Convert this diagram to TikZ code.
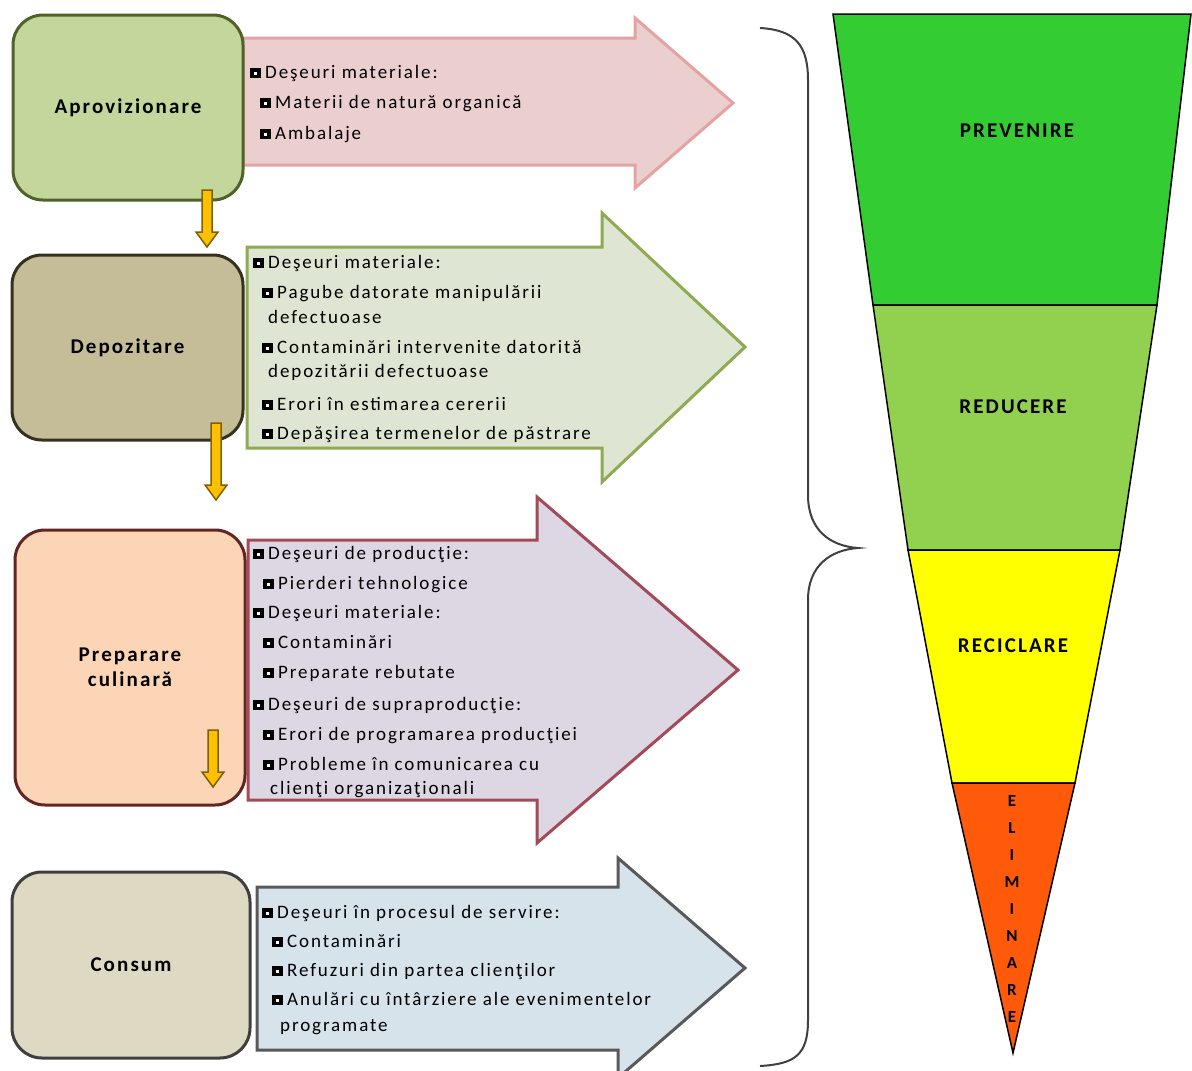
\documentclass[tikz,border=0pt]{standalone}
\usepackage{fontspec}
\setmainfont{Carlito}[LetterSpace=10]
\usetikzlibrary{calc}

\definecolor{boxAfill}{HTML}{C3D69B}\definecolor{boxAline}{HTML}{4F6228}
\definecolor{boxBfill}{HTML}{C4BD97}\definecolor{boxBline}{HTML}{36311F}
\definecolor{boxCfill}{HTML}{FBD5B5}\definecolor{boxCline}{HTML}{632523}
\definecolor{boxDfill}{HTML}{DDD9C3}\definecolor{boxDline}{HTML}{3F3F3F}
\definecolor{arrAfill}{HTML}{EBCFCF}\definecolor{arrAline}{HTML}{E3A3A3}
\definecolor{arrBfill}{HTML}{DEE5D2}\definecolor{arrBline}{HTML}{8EAA52}
\definecolor{arrCfill}{HTML}{DDD7E4}\definecolor{arrCline}{HTML}{A34A57}
\definecolor{arrDfill}{HTML}{D6E3EB}\definecolor{arrDline}{HTML}{595959}
\definecolor{goldfill}{HTML}{FFC000}\definecolor{goldline}{HTML}{7F6000}
\definecolor{lvlA}{HTML}{33CC33}\definecolor{lvlB}{HTML}{92D050}
\definecolor{lvlC}{HTML}{FFFF00}\definecolor{lvlD}{HTML}{FF5A0A}

% hollow square bullet
\newcommand{\sqb}{\makebox[15pt][l]{\rlap{\rule{11pt}{10pt}}\hspace{4pt}\raisebox{3.5pt}{\color{white}\rule{3pt}{3pt}}}}
% small vertical block arrow: x, top y, tip y
\newcommand{\downarr}[3]{\draw[goldarr] (#1-5,#2) -- (#1+5,#2) -- (#1+5,#3-15) -- (#1+11,#3-15) -- (#1,#3) -- (#1-11,#3-15) -- (#1-5,#3-15) -- cycle;}

\tikzset{
  stage/.style={draw, rounded corners=30pt, line width=3pt, align=center,
    font=\fontsize{21}{25}\selectfont\bfseries},
  ln/.style={anchor=base west, inner sep=0pt, font=\fontsize{19}{21}\selectfont},
  bigarr/.style={line width=3pt, line join=miter},
  goldarr/.style={fill=goldfill, draw=goldline, line width=1.5pt},
  tier/.style={draw=black, line width=1.5pt, line join=miter},
  tierlbl/.style={font=\fontsize{21}{25}\selectfont\bfseries},
  brace/.style={draw=black!75, line width=2pt}
}

\begin{document}
\begin{tikzpicture}[x=1pt,y=-1pt]
\useasboundingbox[fill=white] (0,0) rectangle (1192,1071);

% ---- block arrows with the waste categories
\draw[bigarr, fill=arrAfill, draw=arrAline]
  (243,38) -- (635,38) -- (635,18) -- (733,103) -- (635,188) -- (635,165) -- (243,165) -- cycle;
\draw[bigarr, fill=arrBfill, draw=arrBline]
  (247,247) -- (602,247) -- (602,213) -- (745,347) -- (602,482) -- (602,448) -- (247,448) -- cycle;
\draw[bigarr, fill=arrCfill, draw=arrCline]
  (248,540) -- (537,540) -- (537,497) -- (738,670) -- (537,843) -- (537,800) -- (248,800) -- cycle;
\draw[bigarr, fill=arrDfill, draw=arrDline]
  (257,887) -- (618,887) -- (618,858) -- (745,968) -- (618,1078) -- (618,1050) -- (257,1050) -- cycle;

% ---- process stages
\node[stage, fill=boxAfill, draw=boxAline, minimum width=230, minimum height=185] (apro) at (128,107.5) {Aprovizionare};
\node[stage, fill=boxBfill, draw=boxBline, minimum width=231, minimum height=185] (depo) at (127.5,347.5) {Depozitare};
\node[stage, fill=boxCfill, draw=boxCline, minimum width=230, minimum height=275] (prep) at (130,667.5) {Preparare\\culinară};
\node[stage, fill=boxDfill, draw=boxDline, minimum width=238, minimum height=186] (cons) at (131,965) {Consum};

% ---- flow between stages
\downarr{207}{190}{247}
\downarr{216}{423}{500}
\downarr{213}{730}{787}

% ---- texts inside the block arrows
\foreach \y/\x/\t [count=\i] in {
  78/250/{\sqb Deşeuri materiale:},
  108/260/{\sqb Materii de natură organică},
  139/260/{\sqb Ambalaje}}
  \node[ln] (ta-\i) at (\x,\y) {\t};

\foreach \y/\x/\t [count=\i] in {
  268/253/{\sqb Deşeuri materiale:},
  298/262/{\sqb Pagube datorate manipulării},
  323/268/{defectuoase},
  353/262/{\sqb Contaminări intervenite datorită},
  377/268/{depozitării defectuoase},
  410/262/{\sqb Erori în estimarea cererii},
  439/262/{\sqb Depăşirea termenelor de păstrare}}
  \node[ln] (tb-\i) at (\x,\y) {\t};

\foreach \y/\x/\t [count=\i] in {
  559/253/{\sqb Deşeuri de producţie:},
  589/263/{\sqb Pierderi tehnologice},
  618/253/{\sqb Deşeuri materiale:},
  648/263/{\sqb Contaminări},
  678/263/{\sqb Preparate rebutate},
  710/253/{\sqb Deşeuri de supraproducţie:},
  740/263/{\sqb Erori de programarea producţiei},
  770/263/{\sqb Probleme în comunicarea cu},
  794/270/{clienţi organizaţionali}}
  \node[ln] (tc-\i) at (\x,\y) {\t};

\foreach \y/\x/\t [count=\i] in {
  918/262/{\sqb Deşeuri în procesul de servire:},
  947/272/{\sqb Contaminări},
  976/272/{\sqb Refuzuri din partea clienţilor},
  1005/272/{\sqb Anulări cu întârziere ale evenimentelor},
  1031/280/{programate}}
  \node[ln] (td-\i) at (\x,\y) {\t};

% ---- curly brace
\draw[brace] (760,28) .. controls (795,30) and (808,45) .. (808,80) -- (808,495)
  .. controls (808,530) and (830,546) .. (858,548)
  .. controls (830,550) and (808,566) .. (808,600) -- (808,1020)
  .. controls (808,1055) and (795,1064) .. (760,1066);

% ---- waste hierarchy funnel
\draw[tier, fill=lvlA] (833,14) -- (1191,14) -- (1157,305) -- (873,305) -- cycle;
\draw[tier, fill=lvlB] (873,305) -- (1157,305) -- (1120,550) -- (908,550) -- cycle;
\draw[tier, fill=lvlC] (908,550) -- (1120,550) -- (1075,783) -- (952,783) -- cycle;
\draw[tier, fill=lvlD] (952,783) -- (1075,783) -- (1013,1053) -- cycle;

\node[tierlbl] (prev) at (1017,131) {PREVENIRE};
\node[tierlbl] (redu) at (1013,407) {REDUCERE};
\node[tierlbl] (reci) at (1013,646) {RECICLARE};
\foreach \c [count=\i] in {E,L,I,M,I,N,A,R,E}
  \node[font=\fontsize{17}{19}\selectfont\bfseries, inner sep=0pt] (elim-\i) at (1012,801+27*\i-27) {\c};
\end{tikzpicture}
\end{document}
